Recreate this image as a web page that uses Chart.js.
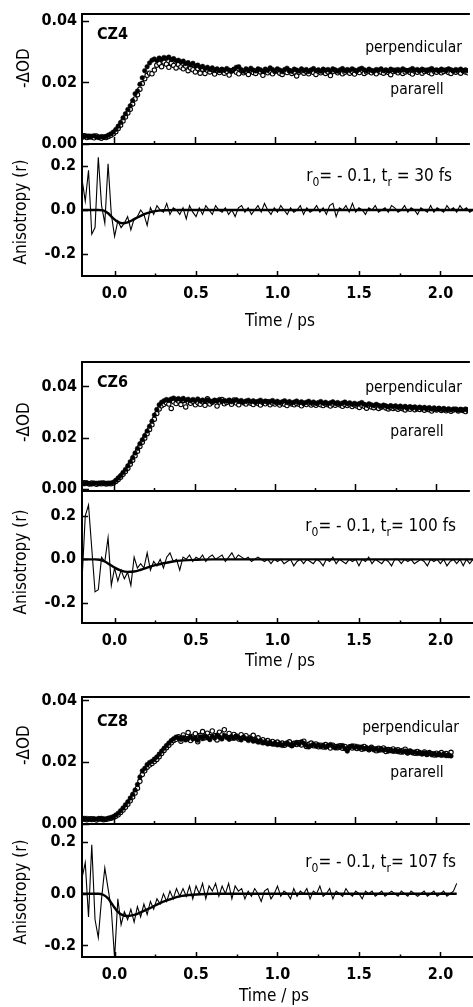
<!DOCTYPE html>
<html>
<head>
<meta charset="utf-8">
<script src="https://cdn.jsdelivr.net/npm/chart.js@4.4.1/dist/chart.umd.min.js"></script>
<style>
  html, body { margin: 0; padding: 0; background: #fff; overflow: hidden; }
  body { width: 473px; height: 1007px; position: relative; }
  canvas { position: absolute; left: 0; }
</style>
</head>
<body>
<canvas id="od4"></canvas>
<canvas id="r4"></canvas>
<canvas id="od6"></canvas>
<canvas id="r6"></canvas>
<canvas id="od8"></canvas>
<canvas id="r8"></canvas>
<script>
// ---- sampling grids (ps) ----
const odTimeStart = -0.2;
const odTimeStep = 0.015;
const rTimeStart = -0.2;
const rTimeStep = 0.02;

// ---- ticks ----
const xTicks = [0, 0.5, 1.0, 1.5, 2.0];
const xMinorTicks = [0.25, 0.75, 1.25, 1.75];
const odTicks = [0, 0.02, 0.04];
const rTicks = [-0.2, 0, 0.2];

// ---- CZ4 ----
const cz4Perp = [
  0.0028, 0.0024, 0.0026, 0.0022, 0.0025, 0.0027, 0.0023, 0.0021, 0.0024, 0.0022,
  0.0025, 0.0029, 0.0033, 0.0039, 0.0047, 0.0058, 0.0070, 0.0085, 0.0098, 0.0112,
  0.0124, 0.0141, 0.0163, 0.0172, 0.0194, 0.0215, 0.0238, 0.0251, 0.0263, 0.0272,
  0.0276, 0.0271, 0.0279, 0.0275, 0.0281, 0.0278, 0.0282, 0.0274, 0.0277, 0.0270,
  0.0272, 0.0266, 0.0269, 0.0261, 0.0264, 0.0257, 0.0262, 0.0253, 0.0256, 0.0249,
  0.0252, 0.0245, 0.0249, 0.0242, 0.0247, 0.0240, 0.0244, 0.0238, 0.0243, 0.0239,
  0.0245, 0.0240, 0.0237, 0.0243, 0.0249, 0.0251, 0.0241, 0.0236, 0.0244, 0.0239,
  0.0246, 0.0240, 0.0237, 0.0244, 0.0241, 0.0236, 0.0243, 0.0239, 0.0247, 0.0242,
  0.0237, 0.0244, 0.0240, 0.0235, 0.0242, 0.0246, 0.0239, 0.0236, 0.0243, 0.0240,
  0.0237, 0.0244, 0.0238, 0.0242, 0.0235, 0.0240, 0.0245, 0.0238, 0.0241, 0.0236,
  0.0243, 0.0239, 0.0242, 0.0237, 0.0244, 0.0240, 0.0236, 0.0241, 0.0245, 0.0238,
  0.0242, 0.0239, 0.0244, 0.0240, 0.0237, 0.0243, 0.0246, 0.0241, 0.0238, 0.0243,
  0.0239, 0.0236, 0.0242, 0.0240, 0.0244, 0.0238, 0.0241, 0.0237, 0.0243, 0.0240,
  0.0236, 0.0242, 0.0239, 0.0244, 0.0240, 0.0237, 0.0241, 0.0245, 0.0239, 0.0242,
  0.0238, 0.0243, 0.0240, 0.0236, 0.0242, 0.0245, 0.0239, 0.0241, 0.0237, 0.0243,
  0.0240, 0.0238, 0.0244, 0.0241, 0.0236, 0.0242, 0.0239, 0.0243, 0.0237, 0.0241, 0.0238
];
const cz4Para = [
  0.0022, 0.0027, 0.0021, 0.0025, 0.0023, 0.0020, 0.0026, 0.0022, 0.0019, 0.0023,
  0.0021, 0.0024, 0.0028, 0.0033, 0.0040, 0.0050, 0.0061, 0.0075, 0.0088, 0.0101,
  0.0113, 0.0130, 0.0146, 0.0160, 0.0178, 0.0196, 0.0212, 0.0223, 0.0230, 0.0228,
  0.0240, 0.0256, 0.0262, 0.0251, 0.0266, 0.0259, 0.0249, 0.0263, 0.0255, 0.0247,
  0.0258, 0.0250, 0.0244, 0.0253, 0.0238, 0.0247, 0.0241, 0.0234, 0.0245, 0.0230,
  0.0243, 0.0229, 0.0239, 0.0234, 0.0242, 0.0227, 0.0238, 0.0232, 0.0240, 0.0230,
  0.0236, 0.0224, 0.0237, 0.0241, 0.0233, 0.0228, 0.0239, 0.0231, 0.0235, 0.0226,
  0.0238, 0.0232, 0.0229, 0.0240, 0.0234, 0.0223, 0.0237, 0.0231, 0.0236, 0.0228,
  0.0235, 0.0239, 0.0230, 0.0226, 0.0236, 0.0232, 0.0238, 0.0229, 0.0234, 0.0221,
  0.0233, 0.0237, 0.0230, 0.0235, 0.0228, 0.0239, 0.0232, 0.0226, 0.0236, 0.0231,
  0.0237, 0.0229, 0.0234, 0.0222, 0.0235, 0.0239, 0.0231, 0.0236, 0.0228, 0.0233,
  0.0238, 0.0230, 0.0235, 0.0227, 0.0236, 0.0232, 0.0240, 0.0229, 0.0234, 0.0237,
  0.0231, 0.0236, 0.0228, 0.0238, 0.0233, 0.0230, 0.0237, 0.0232, 0.0225, 0.0235,
  0.0239, 0.0231, 0.0236, 0.0229, 0.0234, 0.0238, 0.0232, 0.0227, 0.0236, 0.0233,
  0.0237, 0.0230, 0.0235, 0.0239, 0.0232, 0.0228, 0.0236, 0.0233, 0.0238, 0.0231,
  0.0235, 0.0240, 0.0232, 0.0229, 0.0237, 0.0233, 0.0236, 0.0230, 0.0238, 0.0234, 0.0231
];
const cz4Aniso = [
  0.14, 0.04, 0.18, -0.11, -0.08, 0.24, 0.02, -0.06, 0.21, -0.02,
  -0.12, -0.05, -0.08, -0.06, -0.03, -0.09, -0.04, -0.03, 0.00, -0.02,
  -0.07, 0.01, -0.02, 0.02, 0.00, -0.01, 0.03, -0.02, 0.01, 0.00,
  -0.02, 0.01, -0.04, 0.02, -0.01, -0.03, 0.01, -0.02, 0.02, 0.00,
  -0.02, 0.02, 0.00, -0.01, 0.01, -0.02, 0.00, -0.03, 0.01, 0.02,
  -0.01, 0.01, -0.02, 0.00, 0.02, -0.01, 0.03, 0.00, -0.02, 0.01,
  -0.01, 0.02, 0.00, -0.02, 0.01, -0.01, 0.00, 0.02, -0.02, 0.01,
  -0.01, 0.00, 0.02, -0.01, 0.01, -0.02, 0.02, 0.03, -0.03, 0.01,
  0.00, 0.02, -0.01, 0.03, -0.01, 0.01, 0.00, -0.02, 0.01, 0.00,
  0.02, -0.01, 0.00, 0.01, -0.01, 0.02, 0.01, -0.01, 0.00, 0.02,
  -0.01, 0.01, 0.00, -0.02, 0.01, 0.00, -0.01, 0.02, -0.01, 0.01,
  0.00, -0.01, 0.02, 0.00, 0.01, -0.01, 0.02, 0.00, 0.01, -0.01, 0.00
];
const cz4FitTimes = [-0.2, -0.1, -0.07, -0.04, -0.01, 0.02, 0.05, 0.08, 0.11, 0.14, 0.17, 0.2, 0.24, 0.3, 0.4, 2.2];
const cz4FitValues = [0, 0, -0.002, -0.015, -0.037, -0.054, -0.060, -0.056, -0.046, -0.034, -0.023, -0.014, -0.006, -0.001, 0, 0];

// ---- CZ6 ----
const cz6Perp = [
  0.0023, 0.0020, 0.0024, 0.0021, 0.0019, 0.0023, 0.0022, 0.0020, 0.0024, 0.0021,
  0.0022, 0.0020, 0.0023, 0.0026, 0.0034, 0.0043, 0.0052, 0.0064, 0.0076, 0.0090,
  0.0106, 0.0122, 0.0140, 0.0158, 0.0176, 0.0192, 0.0208, 0.0226, 0.0244, 0.0264,
  0.0288, 0.0310, 0.0328, 0.0338, 0.0344, 0.0349, 0.0346, 0.0351, 0.0354, 0.0349,
  0.0352, 0.0348, 0.0353, 0.0346, 0.0350, 0.0344, 0.0349, 0.0345, 0.0351, 0.0343,
  0.0347, 0.0342, 0.0348, 0.0344, 0.0340, 0.0346, 0.0343, 0.0349, 0.0341, 0.0345,
  0.0342, 0.0347, 0.0340, 0.0344, 0.0348, 0.0341, 0.0345, 0.0339, 0.0343, 0.0346,
  0.0340, 0.0344, 0.0338, 0.0342, 0.0346, 0.0339, 0.0343, 0.0337, 0.0341, 0.0345,
  0.0338, 0.0342, 0.0336, 0.0340, 0.0344, 0.0337, 0.0341, 0.0335, 0.0339, 0.0343,
  0.0336, 0.0340, 0.0334, 0.0338, 0.0342, 0.0335, 0.0339, 0.0333, 0.0337, 0.0341,
  0.0334, 0.0338, 0.0332, 0.0336, 0.0340, 0.0333, 0.0337, 0.0331, 0.0335, 0.0339,
  0.0332, 0.0336, 0.0330, 0.0334, 0.0329, 0.0333, 0.0337, 0.0330, 0.0327, 0.0332,
  0.0328, 0.0325, 0.0330, 0.0326, 0.0322, 0.0327, 0.0324, 0.0320, 0.0325, 0.0321,
  0.0324, 0.0319, 0.0323, 0.0318, 0.0322, 0.0317, 0.0321, 0.0316, 0.0320, 0.0315,
  0.0319, 0.0314, 0.0318, 0.0313, 0.0317, 0.0312, 0.0316, 0.0311, 0.0315, 0.0310,
  0.0314, 0.0309, 0.0313, 0.0308, 0.0312, 0.0310, 0.0307, 0.0311, 0.0308, 0.0312, 0.0309
];
const cz6Para = [
  0.0020, 0.0024, 0.0022, 0.0019, 0.0023, 0.0021, 0.0018, 0.0022, 0.0020, 0.0023,
  0.0019, 0.0022, 0.0020, 0.0023, 0.0029, 0.0037, 0.0046, 0.0057, 0.0068, 0.0081,
  0.0096, 0.0112, 0.0129, 0.0147, 0.0166, 0.0182, 0.0198, 0.0215, 0.0232, 0.0250,
  0.0272, 0.0294, 0.0312, 0.0324, 0.0330, 0.0336, 0.0331, 0.0314, 0.0340, 0.0333,
  0.0343, 0.0329, 0.0345, 0.0320, 0.0339, 0.0334, 0.0342, 0.0328, 0.0337, 0.0330,
  0.0340, 0.0326, 0.0352, 0.0331, 0.0338, 0.0345, 0.0323, 0.0339, 0.0349, 0.0332,
  0.0337, 0.0344, 0.0330, 0.0347, 0.0335, 0.0328, 0.0341, 0.0336, 0.0331, 0.0339,
  0.0334, 0.0329, 0.0338, 0.0333, 0.0327, 0.0337, 0.0332, 0.0340, 0.0328, 0.0335,
  0.0331, 0.0336, 0.0327, 0.0334, 0.0330, 0.0325, 0.0335, 0.0331, 0.0328, 0.0333,
  0.0330, 0.0324, 0.0333, 0.0329, 0.0335, 0.0327, 0.0331, 0.0326, 0.0332, 0.0328,
  0.0325, 0.0331, 0.0328, 0.0323, 0.0330, 0.0326, 0.0332, 0.0327, 0.0322, 0.0329,
  0.0325, 0.0330, 0.0321, 0.0327, 0.0323, 0.0318, 0.0326, 0.0322, 0.0315, 0.0324,
  0.0320, 0.0317, 0.0323, 0.0314, 0.0319, 0.0322, 0.0316, 0.0312, 0.0318, 0.0314,
  0.0317, 0.0311, 0.0316, 0.0313, 0.0308, 0.0315, 0.0311, 0.0317, 0.0309, 0.0313,
  0.0310, 0.0314, 0.0307, 0.0312, 0.0309, 0.0304, 0.0311, 0.0308, 0.0313, 0.0306,
  0.0310, 0.0305, 0.0309, 0.0303, 0.0308, 0.0311, 0.0304, 0.0309, 0.0306, 0.0302, 0.0307
];
const cz6Aniso = [
  -0.10, 0.20, 0.25, 0.05, -0.15, -0.14, 0.01, -0.01, 0.10, -0.12,
  -0.04, -0.10, -0.05, -0.09, -0.06, -0.12, 0.01, -0.04, -0.02, -0.04,
  0.03, -0.05, -0.01, -0.03, 0.00, -0.04, 0.01, 0.03, -0.01, 0.00,
  -0.05, 0.01, 0.00, 0.02, -0.01, 0.01, 0.00, 0.02, -0.01, 0.01,
  0.02, 0.00, 0.01, 0.02, -0.01, 0.01, 0.03, 0.00, 0.02, 0.01,
  0.00, 0.01, -0.01, 0.00, 0.01, 0.00, -0.01, 0.00, -0.02, 0.00,
  -0.01, 0.00, -0.02, -0.01, 0.00, -0.03, -0.01, 0.00, -0.02, 0.00,
  -0.01, -0.02, 0.00, -0.01, -0.03, 0.00, -0.01, 0.01, -0.02, 0.00,
  -0.01, -0.02, 0.00, -0.01, 0.00, -0.03, 0.00, -0.01, 0.01, -0.02,
  0.00, -0.01, -0.02, 0.00, -0.01, -0.03, 0.00, 0.00, -0.02, 0.00,
  -0.01, 0.00, -0.02, -0.01, 0.00, -0.01, -0.03, 0.00, -0.01, 0.00,
  -0.02, 0.00, -0.03, -0.01, 0.00, -0.02, 0.00, -0.03, 0.00, -0.02, 0.00
];
const cz6FitTimes = [-0.2, -0.12, -0.09, -0.06, -0.03, 0.0, 0.04, 0.08, 0.12, 0.16, 0.2, 0.25, 0.3, 0.35, 0.42, 0.5, 0.6, 2.2];
const cz6FitValues = [0, 0, -0.002, -0.010, -0.024, -0.038, -0.052, -0.058, -0.056, -0.048, -0.038, -0.027, -0.018, -0.011, -0.005, -0.002, 0, 0];

// ---- CZ8 ----
const cz8Perp = [
  0.0017, 0.0015, 0.0018, 0.0016, 0.0014, 0.0017, 0.0016, 0.0018, 0.0015, 0.0017,
  0.0016, 0.0019, 0.0021, 0.0024, 0.0029, 0.0035, 0.0043, 0.0052, 0.0062, 0.0072,
  0.0084, 0.0096, 0.0110, 0.0128, 0.0152, 0.0172, 0.0180, 0.0192, 0.0199, 0.0203,
  0.0210, 0.0217, 0.0226, 0.0236, 0.0245, 0.0254, 0.0262, 0.0270, 0.0276, 0.0281,
  0.0278, 0.0274, 0.0280, 0.0272, 0.0277, 0.0283, 0.0275, 0.0279, 0.0271, 0.0282,
  0.0276, 0.0285, 0.0279, 0.0273, 0.0284, 0.0278, 0.0288, 0.0281, 0.0275, 0.0286,
  0.0280, 0.0274, 0.0283, 0.0277, 0.0285, 0.0279, 0.0272, 0.0281, 0.0276, 0.0270,
  0.0277, 0.0268, 0.0273, 0.0265, 0.0270, 0.0262, 0.0267, 0.0259, 0.0264, 0.0258,
  0.0262, 0.0256, 0.0260, 0.0254, 0.0259, 0.0263, 0.0257, 0.0253, 0.0258, 0.0264,
  0.0259, 0.0266, 0.0261, 0.0255, 0.0249, 0.0254, 0.0258, 0.0252, 0.0256, 0.0250,
  0.0255, 0.0248, 0.0253, 0.0257, 0.0251, 0.0246, 0.0252, 0.0249, 0.0254, 0.0244,
  0.0236, 0.0248, 0.0253, 0.0247, 0.0251, 0.0245, 0.0249, 0.0243, 0.0247, 0.0241,
  0.0245, 0.0240, 0.0244, 0.0238, 0.0243, 0.0239, 0.0242, 0.0236, 0.0240, 0.0235,
  0.0239, 0.0234, 0.0237, 0.0232, 0.0236, 0.0231, 0.0235, 0.0230, 0.0233, 0.0228,
  0.0232, 0.0227, 0.0230, 0.0226, 0.0229, 0.0224, 0.0228, 0.0223, 0.0227, 0.0222,
  0.0226, 0.0221, 0.0224, 0.0220
];
const cz8Para = [
  0.0015, 0.0018, 0.0014, 0.0016, 0.0017, 0.0015, 0.0013, 0.0016, 0.0018, 0.0014,
  0.0015, 0.0017, 0.0019, 0.0021, 0.0025, 0.0030, 0.0037, 0.0045, 0.0054, 0.0064,
  0.0075, 0.0087, 0.0100, 0.0116, 0.0138, 0.0160, 0.0172, 0.0184, 0.0191, 0.0196,
  0.0202, 0.0209, 0.0218, 0.0228, 0.0238, 0.0247, 0.0255, 0.0263, 0.0270, 0.0274,
  0.0282, 0.0268, 0.0288, 0.0276, 0.0296, 0.0270, 0.0284, 0.0292, 0.0266, 0.0287,
  0.0299, 0.0279, 0.0294, 0.0283, 0.0301, 0.0286, 0.0272, 0.0297, 0.0288, 0.0305,
  0.0283, 0.0293, 0.0278, 0.0290, 0.0284, 0.0275, 0.0289, 0.0280, 0.0286, 0.0274,
  0.0281, 0.0287, 0.0270, 0.0279, 0.0266, 0.0273, 0.0264, 0.0270, 0.0261, 0.0267,
  0.0259, 0.0265, 0.0257, 0.0262, 0.0255, 0.0260, 0.0266, 0.0254, 0.0261, 0.0257,
  0.0263, 0.0256, 0.0268, 0.0251, 0.0258, 0.0262, 0.0253, 0.0259, 0.0250, 0.0255,
  0.0249, 0.0257, 0.0252, 0.0246, 0.0255, 0.0250, 0.0247, 0.0253, 0.0245, 0.0251,
  0.0242, 0.0250, 0.0246, 0.0252, 0.0244, 0.0248, 0.0242, 0.0251, 0.0245, 0.0240,
  0.0248, 0.0243, 0.0237, 0.0245, 0.0240, 0.0246, 0.0235, 0.0241, 0.0238, 0.0243,
  0.0236, 0.0240, 0.0233, 0.0238, 0.0242, 0.0230, 0.0236, 0.0232, 0.0229, 0.0235,
  0.0230, 0.0227, 0.0233, 0.0225, 0.0231, 0.0227, 0.0223, 0.0229, 0.0225, 0.0231,
  0.0224, 0.0228, 0.0222, 0.0232
];
const cz8Aniso = [
  0.06, 0.12, -0.09, 0.19, -0.10, -0.17, -0.02, 0.10, 0.02, -0.06,
  -0.25, -0.02, -0.12, -0.07, -0.10, -0.06, -0.11, -0.05, -0.09, -0.04,
  -0.08, -0.03, -0.06, -0.02, -0.04, 0.00, -0.03, 0.01, -0.02, 0.02,
  -0.01, 0.02, -0.01, 0.03, -0.02, 0.03, 0.00, 0.04, -0.02, 0.03,
  0.01, 0.04, -0.01, 0.03, 0.00, 0.04, -0.02, 0.03, 0.01, 0.02,
  -0.02, 0.01, -0.01, 0.02, 0.00, -0.03, 0.01, 0.02, -0.02, 0.00,
  0.03, -0.01, 0.01, 0.00, -0.02, 0.02, -0.01, 0.01, 0.00, 0.02,
  -0.02, 0.01, 0.00, 0.03, -0.01, 0.00, 0.02, -0.02, 0.01, 0.00,
  -0.01, 0.02, 0.00, -0.01, 0.01, 0.00, -0.02, 0.01, 0.00, 0.01,
  -0.01, 0.00, 0.01, -0.01, 0.00, 0.01, 0.00, -0.01, 0.01, 0.00,
  -0.01, 0.01, 0.00, -0.01, 0.00, 0.01, -0.01, 0.00, 0.01, -0.01,
  0.00, 0.01, -0.01, 0.00, 0.01, 0.04
];
const cz8FitTimes = [-0.2, -0.1, -0.07, -0.04, -0.01, 0.02, 0.05, 0.08, 0.12, 0.16, 0.21, 0.26, 0.32, 0.4, 0.5, 0.6, 2.1];
const cz8FitValues = [0, 0, -0.004, -0.018, -0.045, -0.070, -0.083, -0.086, -0.082, -0.072, -0.058, -0.042, -0.026, -0.010, -0.003, 0, 0];

// ---- page layout (pixels) ----
const FONT = "'DejaVu Sans Condensed', 'DejaVu Sans', sans-serif";
const TICK_FONT = { family: FONT, size: 16, weight: 'bold' };
const panels = [
  { id: '4', name: 'CZ4', perp: cz4Perp, para: cz4Para, aniso: cz4Aniso, fitT: cz4FitTimes, fitV: cz4FitValues,
    odTop: 14, odBottom: 144, rBottom: 276, odMin: 0, odMax: 0.0422, rMin: -0.3, rMax: 0.3, xMax: 2.2,
    nameY: 35, perpX: 462, perpY: 48, paraY: 90, odTitleY: 68, rTitleY: 212, noteX: 452, noteY: 177,
    note: ['r', '0', '= - 0.1, t', 'r', ' = 30 fs'], xLabelPad: 8, xTitleX: 280, xTitleY: 322 },
  { id: '6', name: 'CZ6', perp: cz6Perp, para: cz6Para, aniso: cz6Aniso, fitT: cz6FitTimes, fitV: cz6FitValues,
    odTop: 362, odBottom: 491, rBottom: 623, odMin: -0.0008, odMax: 0.0495, rMin: -0.2935, rMax: 0.315, xMax: 2.2,
    nameY: 383, perpX: 462, perpY: 388, paraY: 432, odTitleY: 422, rTitleY: 562, noteX: 456, noteY: 527,
    note: ['r', '0', '= - 0.1, t', 'r', '= 100 fs'], xLabelPad: 8, xTitleX: 280, xTitleY: 662 },
  { id: '8', name: 'CZ8', perp: cz8Perp, para: cz8Para, aniso: cz8Aniso, fitT: cz8FitTimes, fitV: cz8FitValues,
    odTop: 697, odBottom: 824, rBottom: 957, odMin: 0, odMax: 0.0411, rMin: -0.245, rMax: 0.27, xMax: 2.2,
    nameY: 722, perpX: 459, perpY: 728, paraY: 773, odTitleY: 745, rTitleY: 892, noteX: 456, noteY: 863,
    note: ['r', '0', '= - 0.1, t', 'r', '= 107 fs'], xLabelPad: 8, xTitleX: 274, xTitleY: 997 }
];

function gridPoints(start, step, values) {
  return values.map((v, i) => ({ x: +(start + i * step).toFixed(4), y: v }));
}
function pairPoints(times, values) {
  return times.map((t, i) => ({ x: t, y: values[i] }));
}

// frame, inward ticks and free text
const framePlugin = {
  id: 'frame',
  afterDatasetsDraw(chart, args, opts) {
    const { ctx, chartArea: a, scales: { x, y } } = chart;
    ctx.save();
    ctx.strokeStyle = '#000';
    ctx.lineCap = 'butt';
    ctx.lineWidth = 2;
    ctx.beginPath();
    if (opts.topLine) { ctx.moveTo(a.left - 1, a.top); ctx.lineTo(a.right + 2, a.top); }
    ctx.moveTo(a.left, a.top); ctx.lineTo(a.left, a.bottom + 1);
    ctx.moveTo(a.left - 1, a.bottom); ctx.lineTo(a.right + 2, a.bottom);
    ctx.stroke();
    ctx.lineWidth = 1.5;
    ctx.beginPath();
    xTicks.forEach(v => {
      const px = Math.round(x.getPixelForValue(v)) + 0.5;
      ctx.moveTo(px, a.bottom); ctx.lineTo(px, a.bottom - opts.xMajor);
    });
    xMinorTicks.forEach(v => {
      const px = Math.round(x.getPixelForValue(v)) + 0.5;
      ctx.moveTo(px, a.bottom); ctx.lineTo(px, a.bottom - opts.xMinor);
    });
    opts.yTicks.forEach(v => {
      const py = Math.round(y.getPixelForValue(v)) + 0.5;
      ctx.moveTo(a.left, py); ctx.lineTo(a.left + opts.yLen, py);
    });
    ctx.stroke();
    ctx.restore();
  },
  afterDraw(chart, args, opts) {
    const ctx = chart.ctx;
    const off = opts.offset;
    ctx.save();
    ctx.fillStyle = '#000';
    (opts.texts || []).forEach(t => {
      ctx.font = t.font;
      ctx.textBaseline = 'middle';
      ctx.textAlign = t.align || 'left';
      if (t.rotate) {
        ctx.save();
        ctx.translate(t.x, t.y - off);
        ctx.rotate(-Math.PI / 2);
        ctx.textAlign = 'center';
        ctx.fillText(t.text, 0, 0);
        ctx.restore();
      } else if (t.parts) {
        const main = '17px ' + FONT, sub = '12px ' + FONT;
        let w = 0;
        t.parts.forEach((s, i) => { ctx.font = i % 2 ? sub : main; w += ctx.measureText(s).width; });
        let px = t.x - w;
        ctx.textAlign = 'left';
        t.parts.forEach((s, i) => {
          ctx.font = i % 2 ? sub : main;
          ctx.fillText(s, px, t.y - off + (i % 2 ? 6 : 0));
          px += ctx.measureText(s).width;
        });
      } else {
        ctx.fillText(t.text, t.x, t.y - off);
      }
    });
    ctx.restore();
  }
};

function fixedTicks(values) {
  return s => { s.ticks = values.map(v => ({ value: v })); };
}

function makeOdChart(p) {
  const canvas = document.getElementById('od' + p.id);
  const top = p.odTop - 20;
  const height = p.odBottom + 14 - top;
  canvas.width = 473; canvas.height = height;
  canvas.style.top = top + 'px';
  return new Chart(canvas, {
    type: 'scatter',
    data: {
      datasets: [
        { label: 'perpendicular', data: gridPoints(odTimeStart, odTimeStep, p.perp),
          pointRadius: 2.3, pointBackgroundColor: '#000', pointBorderColor: '#000', pointBorderWidth: 0.5 },
        { label: 'pararell', data: gridPoints(odTimeStart, odTimeStep, p.para),
          pointRadius: 2.2, pointBackgroundColor: '#fff', pointBorderColor: '#000', pointBorderWidth: 1.1 }
      ]
    },
    options: {
      responsive: false, animation: false, devicePixelRatio: 1,
      layout: { padding: { top: p.odTop - top, bottom: height - (p.odBottom - top), left: 0, right: 0 } },
      plugins: {
        legend: { display: false }, tooltip: { enabled: false },
        frame: {
          topLine: true, xMajor: 7, xMinor: 3, yLen: 7, yTicks: odTicks, offset: top,
          texts: [
            { text: p.name, x: 97, y: p.nameY, font: 'bold 16px ' + FONT },
            { text: 'perpendicular', x: p.perpX, y: p.perpY, align: 'right', font: '15.5px ' + FONT },
            { text: 'pararell', x: 417, y: p.paraY, align: 'center', font: '15.5px ' + FONT },
            { text: '-\u0394OD', x: 25, y: p.odTitleY, rotate: true, font: '17px ' + FONT }
          ]
        }
      },
      scales: {
        x: { type: 'linear', min: -0.2, max: p.xMax, grid: { display: false }, border: { display: false },
             ticks: { display: false }, afterFit: s => { s.height = 0; s.paddingLeft = 0; s.paddingRight = 0; } },
        y: { type: 'linear', min: p.odMin, max: p.odMax, grid: { display: false, drawTicks: false }, border: { display: false },
             afterBuildTicks: fixedTicks(odTicks),
             afterFit: s => { s.width = 82; s.paddingTop = 0; s.paddingBottom = 0; },
             ticks: { padding: 5, color: '#000', font: TICK_FONT, callback: v => v.toFixed(2) } }
      }
    },
    plugins: [framePlugin]
  });
}

function makeRChart(p) {
  const canvas = document.getElementById('r' + p.id);
  const top = p.odBottom - 10;
  const axisH = 60;
  const height = p.rBottom + axisH - top;
  canvas.width = 473; canvas.height = height;
  canvas.style.top = top + 'px';
  return new Chart(canvas, {
    type: 'scatter',
    data: {
      datasets: [
        { label: 'fit', data: pairPoints(p.fitT, p.fitV), showLine: true, pointRadius: 0,
          borderColor: '#000', borderWidth: 2.4, cubicInterpolationMode: 'monotone' },
        { label: 'anisotropy', data: gridPoints(rTimeStart, rTimeStep, p.aniso), showLine: true, pointRadius: 0,
          borderColor: '#000', borderWidth: 1.1 }
      ]
    },
    options: {
      responsive: false, animation: false, devicePixelRatio: 1,
      layout: { padding: { top: 10, bottom: 0, left: 0, right: 0 } },
      plugins: {
        legend: { display: false }, tooltip: { enabled: false },
        frame: {
          topLine: false, xMajor: 5, xMinor: 2.5, yLen: 6, yTicks: rTicks, offset: top,
          texts: [
            { parts: p.note, x: p.noteX, y: p.noteY },
            { text: 'Anisotropy (r)', x: 22, y: p.rTitleY, rotate: true, font: '17px ' + FONT },
            { text: 'Time / ps', x: p.xTitleX, y: p.xTitleY, align: 'center', font: '17px ' + FONT }
          ]
        }
      },
      scales: {
        x: { type: 'linear', min: -0.2, max: p.xMax, grid: { display: false, drawTicks: false }, border: { display: false },
             afterBuildTicks: fixedTicks(xTicks),
             afterFit: s => { s.height = axisH; s.paddingLeft = 0; s.paddingRight = 0; },
             ticks: { padding: p.xLabelPad, maxRotation: 0, autoSkip: false, color: '#000',
                      font: TICK_FONT, callback: v => v.toFixed(1) } },
        y: { type: 'linear', min: p.rMin, max: p.rMax, grid: { display: false, drawTicks: false }, border: { display: false },
             afterBuildTicks: fixedTicks(rTicks),
             afterFit: s => { s.width = 82; s.paddingTop = 0; s.paddingBottom = 0; },
             ticks: { padding: 6, color: '#000', font: TICK_FONT, callback: v => v.toFixed(1) } }
      }
    },
    plugins: [framePlugin]
  });
}

panels.forEach(p => { makeOdChart(p); makeRChart(p); });
</script>
</body>
</html>
